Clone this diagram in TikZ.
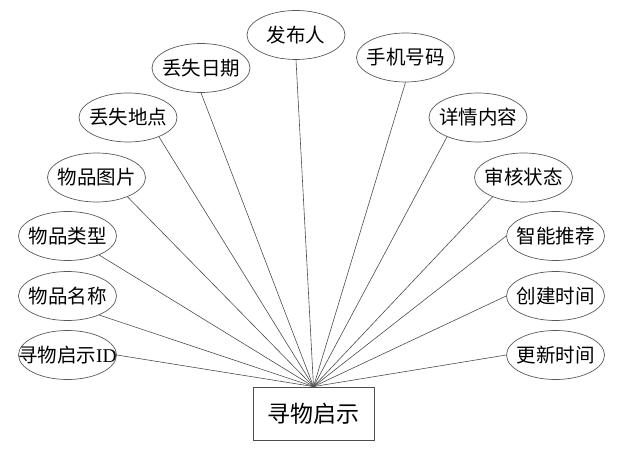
\documentclass[tikz,border=0pt]{standalone}
\usepackage{fontspec}
\setmainfont{Liberation Serif}
\newfontfamily\cjk{Noto Sans CJK SC}
\usetikzlibrary{shapes.geometric}
\begin{document}
\begin{tikzpicture}[x=1pt,y=-1pt,
 attr/.style={ellipse, draw=black!65, line width=0.7pt, minimum width=98pt, minimum height=49pt, inner sep=0pt, font=\cjk\fontsize{19.5}{20}\selectfont},
 ent/.style={rectangle, draw=black!70, line width=0.8pt, minimum width=121pt, minimum height=53pt, inner sep=0pt, font=\cjk\fontsize{23}{24}\selectfont},
 link/.style={draw=black!70, line width=0.6pt}]
\useasboundingbox (0,0) rectangle (629,454);
\node[ent] (e) at (313.5,413.5) {寻物启示};
\node[attr] (a1) at (67.5,355) {\makebox[0pt]{寻物启示{\rmfamily ID}}};
\node[attr] (a2) at (67.5,296) {\makebox[0pt]{物品名称}};
\node[attr] (a3) at (67.5,236) {\makebox[0pt]{物品类型}};
\node[attr] (a4) at (96.5,177.5) {\makebox[0pt]{物品图片}};
\node[attr] (a5) at (128,117.5) {\makebox[0pt]{丢失地点}};
\node[attr] (a6) at (201,68) {\makebox[0pt]{丢失日期}};
\node[attr] (a7) at (296,35) {\makebox[0pt]{发布人}};
\node[attr] (a8) at (405.5,57.5) {\makebox[0pt]{手机号码}};
\node[attr] (a9) at (478,117.5) {\makebox[0pt]{详情内容}};
\node[attr] (a10) at (523.5,177.5) {\makebox[0pt]{审核状态}};
\node[attr] (a11) at (555.5,236) {\makebox[0pt]{智能推荐}};
\node[attr] (a12) at (555.5,296) {\makebox[0pt]{创建时间}};
\node[attr] (a13) at (555.5,355) {\makebox[0pt]{更新时间}};
\draw[link] (a1.east) -- (e.north);
\draw[link] (a2.-31) -- (e.north);
\draw[link] (a3.-31) -- (e.north);
\draw[link] (a4.-32) -- (e.north);
\draw[link] (a5.-32) -- (e.north);
\draw[link] (a6.south) -- (e.north);
\draw[link] (a7.south) -- (e.north);
\draw[link] (a8.south) -- (e.north);
\draw[link] (a9.-148) -- (e.north);
\draw[link] (a10.-148) -- (e.north);
\draw[link] (a11.west) -- (e.north);
\draw[link] (a12.west) -- (e.north);
\draw[link] (a13.west) -- (e.north);
\end{tikzpicture}
\end{document}
